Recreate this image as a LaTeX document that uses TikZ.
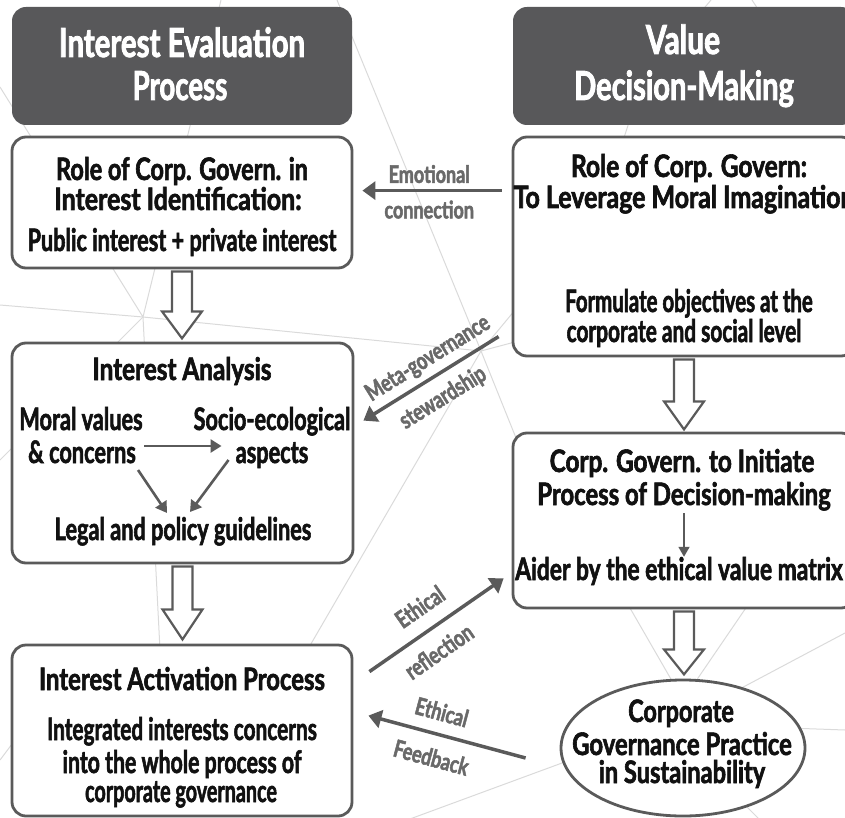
\documentclass[tikz,border=0pt]{standalone}
\usepackage{fontspec}
\usepackage{graphicx}
\setmainfont{Lato}[FakeStretch=0.70, BoldFeatures={FakeBold=1.8}]
\newfontfamily\headfont{Lato}[FakeStretch=0.75, BoldFeatures={FakeBold=2}]
\usetikzlibrary{calc,arrows.meta,shapes.geometric}

\definecolor{hdr}{HTML}{58585A}
\definecolor{edge}{HTML}{5A5A5A}
\definecolor{lbl}{HTML}{696969}
\definecolor{web}{HTML}{DADADA}
\definecolor{ink}{HTML}{111111}

% horizontal set width of a line of text
\newcommand{\wide}[2]{\scalebox{#1}[1]{#2}}

\tikzset{
  x=1pt, y=-1pt,
  hdrbox/.style={fill=hdr, rounded corners=14pt, inner sep=0pt},
  box/.style={draw=edge, line width=2.8pt, fill=white, rounded corners=14pt, inner sep=0pt},
  ovalbox/.style={draw=edge, line width=2.8pt, fill=white, ellipse, inner sep=0pt},
  htxt/.style={anchor=base, inner sep=0pt, text=white, font=\headfont\fontsize{40}{40}\selectfont\bfseries},
  btxt/.style={anchor=base, inner sep=0pt, text=ink, font=\fontsize{31}{31}\selectfont\bfseries},
  ltxt/.style={inner sep=0pt, text=lbl, text height=17pt, text depth=4pt,
               font=\headfont\fontsize{24}{24}\selectfont\bfseries},
  conn/.style={draw=edge, line width=3.5pt},
  tipend/.style={-{Triangle[length=13pt,width=18pt]}},
  tipstart/.style={{Triangle[length=13pt,width=18pt]}-},
  inarr/.style={draw=edge, line width=2.6pt, -{Triangle[length=11pt,width=13pt]}},
  thinarr/.style={draw=edge, line width=1.8pt, -{Triangle[length=10pt,width=11pt]}},
  hollow/.style={draw=edge, line width=2.2pt, fill=white, line join=miter},
  webline/.style={draw=web, line width=1pt},
}

% downward block arrow: start anchor, shaft length, head length
\newcommand{\blockdown}[3]{%
  \draw[hollow] ([xshift=-10pt,yshift=-2pt]#1) -- ++(20,0) -- ++(0,#2) -- ++(10,0)
    -- ++(-20,#3) -- ++(-20,-#3) -- ++(10,0) -- cycle;}

\begin{document}
\begin{tikzpicture}
\useasboundingbox (0,0) rectangle (845,818);
\clip (0,0) rectangle (845,818);

% faint network in the background
\draw[webline] (337,0) -- (481,351) -- (545,510);
\draw[webline] (0,305) -- (143,317) -- (481,351);
\draw[webline] (481,351) -- (560,330);
\draw[webline] (481,351) -- (540,280);
\draw[webline] (481,351) -- (290,680);
\draw[webline] (221,0) -- (143,317) -- (0,87);
\draw[webline] (143,317) -- (0,460);
\draw[webline] (143,317) -- (160,650);
\draw[webline] (0,760) -- (60,680);
\draw[webline] (380,830) -- (562,763) -- (700,720);
\draw[webline] (600,556) -- (683,700) -- (780,558);
\draw[webline] (845,633) -- (700,710);
\draw[webline] (845,730) -- (760,727);
\draw[webline] (700,760) -- (770,830);
\draw[webline] (711,0) -- (690,25);
\draw[webline] (752,0) -- (765,20);
\draw[webline] (633,110) -- (620,150);

% column headers
\node[hdrbox, minimum width=340pt, minimum height=118pt] (hL) at (182,66) {};
\node[hdrbox, minimum width=342pt, minimum height=118pt] (hR) at (684,66) {};
\node[htxt] (hL1) at (182,57) {\wide{0.98}{Interest Evaluation}};
\node[htxt] (hL2) at (180,100) {\wide{0.92}{Process}};
\node[htxt] (hR1) at (683,54) {Value};
\node[htxt] (hR2) at (684,100) {\wide{0.97}{Decision-Making}};

% boxes
\node[box, minimum width=340pt, minimum height=131pt] (lb1) at (182,202.5) {};
\node[box, minimum width=341pt, minimum height=220pt] (lb2) at (182.5,453) {};
\node[box, minimum width=340pt, minimum height=171pt] (lb3) at (182,730.5) {};
\node[box, minimum width=342pt, minimum height=219pt] (rb1) at (684,246.5) {};
\node[box, minimum width=342pt, minimum height=175pt] (rb2) at (684,520.5) {};
\node[ovalbox, minimum width=244pt, minimum height=136pt] (ell) at (683,748) {};

% texts of the left column
\node[btxt] (lb1a) at (182,180) {\wide{1.08}{Role of Corp. Govern. in}};
\node[btxt] (lb1b) at (178,210) {\wide{1.15}{Interest Identification:}};
\node[btxt] (lb1c) at (182,251) {Public interest + private interest};

\node[btxt] (lb2a) at (182,380) {\wide{1.12}{Interest Analysis}};
\node[btxt] (mv1) at (81,430) {Moral values};
\node[btxt] (mv2) at (82,463) {\& concerns};
\node[btxt] (se1) at (272,430) {Socio-ecological};
\node[btxt] (se2) at (272,463) {aspects};
\node[btxt] (lg) at (183,540) {Legal and policy guidelines};

\node[btxt] (lb3a) at (182,690) {\wide{1.10}{Interest Activation Process}};
\node[btxt] (lb3b) at (182,740) {\wide{0.96}{Integrated interests concerns}};
\node[btxt] (lb3c) at (182,773) {\wide{0.98}{into the whole process of}};
\node[btxt] (lb3d) at (181,802) {\wide{0.91}{corporate governance}};

% texts of the right column
\node[btxt] (rb1a) at (689,177) {\wide{1.13}{Role of Corp. Govern:}};
\node[btxt] (rb1b) at (684,208) {\wide{1.15}{To Leverage Moral Imagination}};
\node[btxt] (rb1c) at (689,312) {\wide{0.94}{Formulate objectives at the}};
\node[btxt] (rb1d) at (684,342) {\wide{0.96}{corporate and social level}};

\node[btxt] (rb2a) at (682,472) {\wide{1.12}{Corp. Govern. to Initiate}};
\node[btxt] (rb2b) at (684,505) {\wide{1.10}{Process of Decision-making}};
\node[btxt] (rb2c) at (679,580) {\wide{1.05}{Aider by the ethical value matrix}};

\node[btxt] (el1) at (681,722) {\wide{1.08}{Corporate}};
\node[btxt] (el2) at (682,755) {\wide{1.10}{Governance Practice}};
\node[btxt] (el3) at (682,783) {\wide{1.09}{in Sustainability}};

% arrows inside the boxes
\draw[inarr] ($(mv2.base east)+(8,-17)$) -- ($(se2.base west)+(-14,-17)$);
\draw[inarr] ($(mv2.base east)+(2,7)$) -- ($(lg.base)+(-16,-27)$);
\draw[inarr] ($(se2.base west)+(-7,-3)$) -- ($(lg.base)+(7,-28)$);
\draw[thinarr] ($(rb2b.base)+(0,8)$) -- (rb2b.base |- rb2c.north);

% block arrows down each column
\blockdown{lb1.south}{40}{27}
\blockdown{lb2.south}{43}{30}
\blockdown{rb1.south}{42}{28}
\blockdown{rb2.south}{38}{25}

% connectors between the columns
\draw[conn, tipstart] ($(lb1.north east)+(9,55)$) -- ($(rb1.north west)+(-10,55)$)
  node[ltxt, pos=0.48, above=2pt] (l1) {Emotional}
  node[ltxt, pos=0.48, below=9pt] (l2) {connection};
\draw[conn, tipstart] ($(lb2.north east)+(9,79)$) -- ($(rb1.north west)+(-13,201)$)
  node[ltxt, sloped, pos=0.55, above=6pt] (l3) {Meta-governance}
  node[ltxt, sloped, pos=0.50, below=11pt] (l4) {stewardship};
\draw[conn, tipend] ($(lb3.north east)+(16,28)$) -- ($(rb2.south west)+(-8,-31)$)
  node[ltxt, sloped, pos=0.48, above=10pt] (l5) {Ethical}
  node[ltxt, sloped, pos=0.42, below=13pt] (l6) {reflection};
\draw[conn, tipstart] ($(lb3.north east)+(15,72)$) -- ($(ell.west)+(-34,10)$)
  node[ltxt, sloped, pos=0.43, above=8pt] (l7) {Ethical}
  node[ltxt, sloped, pos=0.44, below=14pt] (l8) {Feedback};
\end{tikzpicture}
\end{document}
